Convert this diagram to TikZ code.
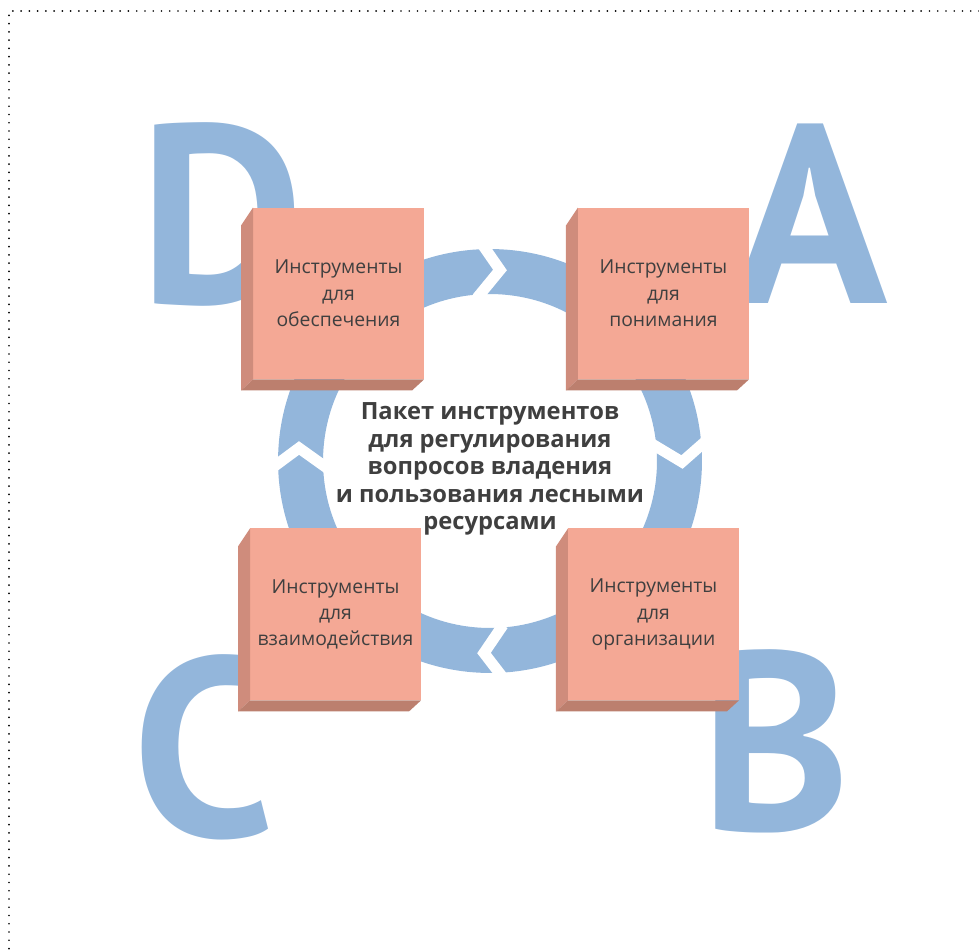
\documentclass[tikz,border=0pt]{standalone}
\usepackage{fontspec}
\setmainfont{Open Sans}
\newfontfamily\letterfont{PT Sans}
\usepackage{tikz}

\definecolor{ringblue}{HTML}{93B6DB}
\definecolor{boxfront}{HTML}{F4A895}
\definecolor{boxside}{HTML}{CF8C7C}
\definecolor{boxbottom}{HTML}{BC7F6E}
\definecolor{txtgray}{HTML}{3F3F3F}

\begin{document}
\begin{tikzpicture}[x=0.02cm,y=-0.02cm,node distance=6.5cm]
  \tikzstyle{letter}=[text=ringblue,font=\letterfont\fontsize{145}{145}\selectfont\bfseries,
                      inner sep=0pt,anchor=base]
  \tikzstyle{tool}=[fill=boxfront,text=txtgray,minimum width=3.42cm,minimum height=3.44cm,
                    inner sep=0pt,outer sep=0pt,align=center,font=\fontsize{11}{15}\selectfont]
  \tikzstyle{gap}=[draw=white,line width=0.22cm,miter limit=10]

  \useasboundingbox (0,0) rectangle (979,950);
  \draw[line width=1.1pt,line cap=round,dash pattern=on 0pt off 4.7pt]
       (979,11) -- (9,11) -- (9,950);

  % big letters
  \node[letter] (letD) at (222,303) {D};
  \node[letter] (letA) at (811,303) {A};
  \node[letter] (letC) at (204,836) {C};
  \node[letter] (letB) at (776,830) {B};

  % ring with chevron cuts
  \draw[ringblue,line width=0.9cm] (490,461) circle [radius=3.79cm];
  \draw[gap] (482,244) -- (500,270) -- (477,298);
  \draw[gap] (652,444) -- (682,462) -- (707,440);
  \draw[gap] (503,625) -- (484,653) -- (504,679);
  \draw[gap] (272,468) -- (299,448) -- (327,468);

  \node[tool]          (D) at (338.5,293.5) {Инструменты\\для\\обеспечения};
  \node[tool]          (A) [right of=D]     {Инструменты\\для\\понимания};
  \node[tool]          (C) [below of=D, xshift=-0.06cm, yshift=0.08cm] {Инструменты\\для\\взаимодействия};
  \node[tool]          (B) [right of=C, xshift=-0.14cm] {Инструменты\\для\\организации};

  \foreach \b in {D,A,C,B}{
    \fill[boxside] (\b.north west) -- (\b.south west) -- ++(-12,11)
                   -- ([shift={(-12,18)}]\b.north west) -- cycle;
    \fill[boxbottom] (\b.south west) -- (\b.south east) -- ++(-12,11)
                   -- ([shift={(-12,11)}]\b.south west) -- cycle;
  }

  \node[font=\fontsize{13.5}{15.6}\selectfont\bfseries,text=txtgray,align=center]
       (hub) at (490,469) {Пакет инструментов\\для регулирования\\вопросов владения\\и пользования лесными\\ресурсами};
\end{tikzpicture}
\end{document}
